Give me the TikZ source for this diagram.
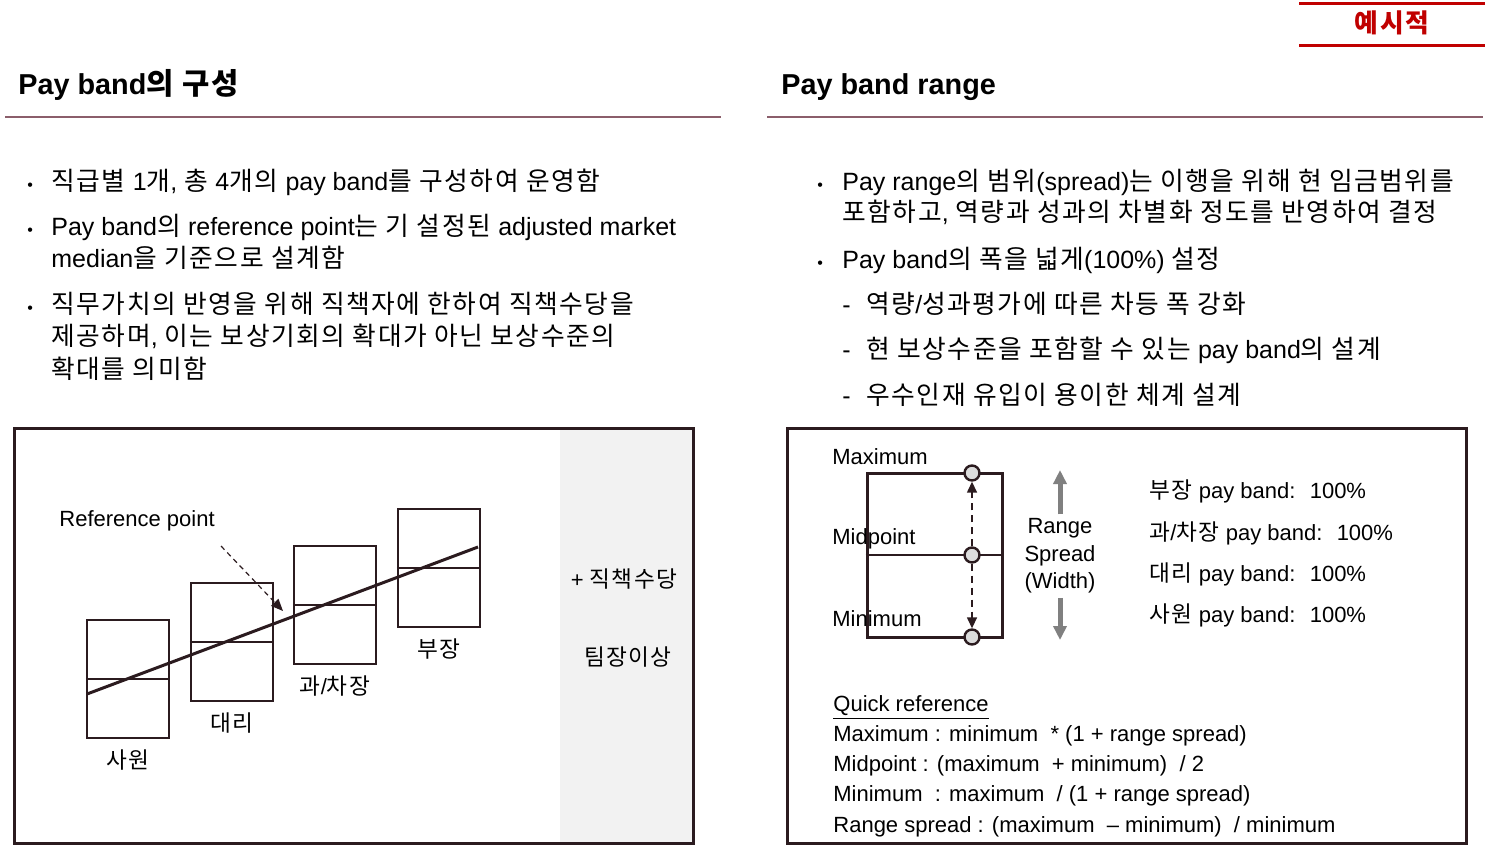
\documentclass[tikz,border=0pt]{standalone}
\usepackage{fontspec}
\setmainfont{Liberation Sans}
\newfontfamily\lafam{Liberation Sans}
\newfontfamily\krfam[Scale=1.03, LetterSpace=6]{Noto Sans CJK KR}
\usetikzlibrary{arrows.meta,positioning}

% Hangul runs are set in the CJK family
\newXeTeXintercharclass\hangulclass
\newcount\hangulcode
\hangulcode="AC00
\loop
  \XeTeXcharclass\hangulcode=\hangulclass
  \advance\hangulcode by 1
\ifnum\hangulcode<"D7A4 \repeat
\XeTeXinterchartoks 0 \hangulclass = {\krfam}
\XeTeXinterchartoks 4095 \hangulclass = {\krfam}
\XeTeXinterchartoks \hangulclass 0 = {\lafam}
\XeTeXinterchartoks 4095 0 = {\lafam}
\XeTeXinterchartokenstate=1

\definecolor{tagred}{HTML}{C00000}
\definecolor{rulemaroon}{HTML}{8B5E6B}
\definecolor{framedark}{HTML}{2B1B1F}
\definecolor{panelgray}{HTML}{F2F2F2}
\definecolor{knobgray}{HTML}{DCDCDC}
\definecolor{spreadgray}{HTML}{808080}

\tikzset{
  headtext/.style={font=\bfseries\fontsize{14.4}{17}\selectfont, anchor=base west, inner sep=0pt},
  headrule/.style={draw=rulemaroon, line width=1pt},
  tagrule/.style={draw=tagred, line width=1.5pt},
  bodytext/.style={font=\fontsize{12.5}{15}\selectfont, anchor=base west, inner sep=0pt},
  dotmark/.style={font=\fontsize{8}{8}\selectfont, anchor=base west, inner sep=0pt},
  boxtext/.style={font=\fontsize{11}{13}\selectfont, anchor=base west, inner sep=0pt},
  tierlabel/.style={font=\fontsize{11}{13}\selectfont, inner sep=0pt},
  paneltext/.style={font=\fontsize{11}{13}\selectfont, inner sep=0pt},
  frame/.style={draw=framedark, line width=1.5pt},
  bandbox/.style={draw=framedark, line width=1.25pt, minimum width=41pt, minimum height=59pt, inner sep=0pt},
  bandmid/.style={draw=framedark, line width=1pt},
  trend/.style={draw=framedark, line width=1.5pt},
  refarrow/.style={draw=framedark, line width=0.6pt, dash pattern=on 2.5pt off 2pt, -{Triangle[length=6pt,width=5pt]}},
  knob/.style={circle, draw=framedark, fill=knobgray, line width=1.2pt, minimum size=7.5pt, inner sep=0pt},
  spanarrow/.style={draw=framedark, line width=0.75pt, dash pattern=on 3.5pt off 2.5pt, -{Triangle[length=5.5pt,width=5pt]}},
  spreadarrow/.style={draw=spreadgray, line width=2.5pt, -{Triangle[length=7pt,width=6.5pt]}}
}

\begin{document}
\begin{tikzpicture}[x=0.5pt, y=-0.5pt]
    \useasboundingbox (0,0) rectangle (1502,852);
    % tag
    \draw[tagrule] (1299,3) -- (1485,3);
    \draw[tagrule] (1299,45) -- (1485,45);
    \node[name=tag, font=\bfseries\fontsize{12.5}{15}\selectfont, text=tagred] at (1392,23) {예시적};
    % headers
    \node[name=headleft, headtext] at (18,94) {Pay band의 구성};
    \draw[headrule] (5,117) -- (721,117);
    \node[name=headright, headtext] at (781,94) {Pay band range};
    \draw[headrule] (767,117) -- (1483,117);
    % left bullets
    \node[name=ldot1, dotmark] at (27,190) {•};
    \node[name=litem1, bodytext] at (51,190) {직급별 1개, 총 4개의 pay band를 구성하여 운영함};
    \node[name=ldot2, dotmark] at (27,235) {•};
    \node[name=litem2, bodytext] at (51,235) {Pay band의 reference point는 기 설정된 adjusted market};
    \node[name=litem2b, bodytext] at (51,267) {median을 기준으로 설계함};
    \node[name=ldot3, dotmark] at (27,313) {•};
    \node[name=litem3, bodytext] at (51,313) {직무가치의 반영을 위해 직책자에 한하여 직책수당을};
    \node[name=litem3b, bodytext] at (51,345) {제공하며, 이는 보상기회의 확대가 아닌 보상수준의};
    \node[name=litem3c, bodytext] at (51,378) {확대를 의미함};
    % right bullets
    \node[name=rdot1, dotmark] at (817,190) {•};
    \node[name=ritem1, bodytext] at (842,190) {Pay range의 범위(spread)는 이행을 위해 현 임금범위를};
    \node[name=ritem1b, bodytext] at (842,221) {포함하고, 역량과 성과의 차별화 정도를 반영하여 결정};
    \node[name=rdot2, dotmark] at (817,268) {•};
    \node[name=ritem2, bodytext] at (842,268) {Pay band의 폭을 넓게(100\%) 설정};
    \node[name=rdash1, bodytext] at (842,313) {-};
    \node[name=rsub1, bodytext] at (866,313) {역량/성과평가에 따른 차등 폭 강화};
    \node[name=rdash2, bodytext] at (842,358) {-};
    \node[name=rsub2, bodytext] at (866,358) {현 보상수준을 포함할 수 있는 pay band의 설계};
    \node[name=rdash3, bodytext] at (842,404) {-};
    \node[name=rsub3, bodytext] at (866,404) {우수인재 유입이 용이한 체계 설계};

    % left panel
    \fill[panelgray] (560,430) rectangle (692,842);
    \draw[frame] (14,428) rectangle (693,843);
    \node[name=sawon, bandbox] at (128,679) {};
    \draw[bandmid] (sawon.west) -- (sawon.east);
    \node[name=sawonlbl, tierlabel, below=5pt of sawon] {사원};
    \node[name=daeri, bandbox] at (232,642) {};
    \draw[bandmid] (daeri.west) -- (daeri.east);
    \node[name=daerilbl, tierlabel, below=5pt of daeri] {대리};
    \node[name=gwajang, bandbox] at (335,605) {};
    \draw[bandmid] (gwajang.west) -- (gwajang.east);
    \node[name=gwajanglbl, tierlabel, below=5pt of gwajang] {과/차장};
    \node[name=bujang, bandbox] at (439,568) {};
    \draw[bandmid] (bujang.west) -- (bujang.east);
    \node[name=bujanglbl, tierlabel, below=5pt of bujang] {부장};
    \coordinate (trendlow) at (87,694);
    \coordinate (trendhigh) at (478,547);
    \draw[trend] (trendlow) -- (trendhigh);
    \node[name=refpt, boxtext] at (59,526) {Reference point};
    \coordinate (reftail) at (221,546);
    \coordinate (reftip) at (283,611);
    \draw[refarrow] (reftail) -- (reftip);
    \node[name=allowance, paneltext] at (624,579) {+ 직책수당};
    \node[name=teamlead, paneltext] at (628,657) {팀장이상};

    % right panel
    \draw[frame] (787,428) rectangle (1466,843);
    \node[name=band, draw=framedark, line width=1.5pt, minimum width=67.5pt, minimum height=82pt, inner sep=0pt] at (934.5,555) {};
    \draw[bandmid] (band.west) -- (band.east);
    \node[name=maxlbl, boxtext] at (832,464) {Maximum};
    \node[name=midlbl, boxtext] at (832,544) {Midpoint};
    \node[name=minlbl, boxtext] at (832,626) {Minimum};
    \node[name=kmax, knob] at (972,473) {};
    \node[name=kmid, knob] at (972,555) {};
    \node[name=kmin, knob] at (972,637) {};
    \draw[spanarrow] (kmid) -- (kmax);
    \draw[spanarrow] (kmid) -- (kmin);
    \node[name=spread, font=\fontsize{11}{13.75}\selectfont, align=center, inner sep=2pt] at (1060,556) {Range\\Spread\\(Width)};
    \coordinate (spreadtop) at (1060,470);
    \coordinate (spreadbot) at (1060,640);
    \draw[spreadarrow] (spread.north) -- (spreadtop);
    \draw[spreadarrow] (spread.south) -- (spreadbot);
    \node[name=bujangpb, boxtext] at (1149,498) {부장 pay band:~ 100\%};
    \node[name=gwajangpb, boxtext] at (1149,540) {과/차장 pay band:~ 100\%};
    \node[name=daeripb, boxtext] at (1149,581) {대리 pay band:~ 100\%};
    \node[name=sawonpb, boxtext] at (1149,622) {사원 pay band:~ 100\%};
    \node[name=quickref, boxtext] at (833,711) {\underline{Quick reference}};
    \node[name=qmax, boxtext] at (833,741) {Maximum : minimum \ * (1 + range spread)};
    \node[name=qmid, boxtext] at (833,771) {Midpoint : (maximum \ + minimum) \ / 2};
    \node[name=qmin, boxtext] at (833,801) {Minimum \ : maximum \ / (1 + range spread)};
    \node[name=qspread, boxtext] at (833,832) {Range spread : (maximum \ – minimum) \ / minimum};
\end{tikzpicture}
\end{document}
